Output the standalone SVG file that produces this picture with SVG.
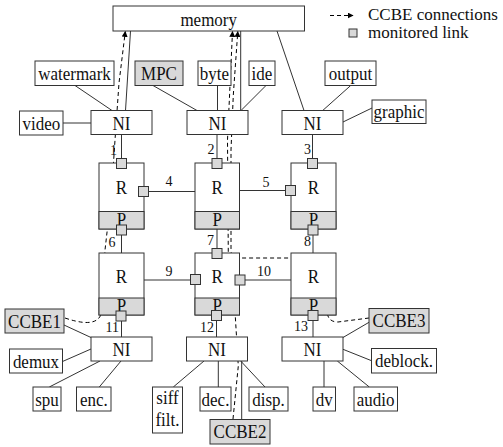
<svg xmlns="http://www.w3.org/2000/svg" width="503" height="447" viewBox="0 0 503 447" font-family="Liberation Serif, Times New Roman, serif">
<defs>
<style>
.b{fill:#fff;stroke:#333;stroke-width:1}
.g{fill:#d9d9d9;stroke:#333;stroke-width:1}
.sq{fill:#d9d9d9;stroke:#333;stroke-width:1}
.l{stroke:#333;stroke-width:1;fill:none}
.d{stroke:#000;stroke-width:1;fill:none;stroke-dasharray:4,3}
text{font-family:'Liberation Serif','Times New Roman',serif;fill:#111}
.t{font-size:17px;text-anchor:middle;transform-box:fill-box;transform-origin:50% 80.5%;transform:scaleY(1.15)}
.lg{font-size:17px}
.n{font-size:14px}
.m{text-anchor:middle}
.e{text-anchor:end}
</style>
<marker id="ah" viewBox="0 0 10 10" refX="9" refY="5" markerWidth="6" markerHeight="6" orient="auto" markerUnits="userSpaceOnUse">
<path d="M0,0 L10,5 L0,10 Z" fill="#000"/>
</marker>
</defs>

<g id="connectors">
<line class="l" x1="63" y1="123" x2="91" y2="123"/>
<line class="l" x1="75" y1="85.5" x2="112" y2="110.5"/>
<line class="l" x1="130.5" y1="31" x2="125.5" y2="110.5"/>
<line class="l" x1="153" y1="85.5" x2="197" y2="110.5"/>
<line class="l" x1="217.5" y1="85.5" x2="217.5" y2="110.5"/>
<line class="l" x1="240.7" y1="31" x2="240.7" y2="110.5"/>
<line class="l" x1="266" y1="85.5" x2="241" y2="110.5"/>
<line class="l" x1="277" y1="31" x2="304" y2="110.5"/>
<line class="l" x1="350.7" y1="85.5" x2="322.7" y2="110.5"/>
<line class="l" x1="343" y1="122" x2="372" y2="108"/>
<line class="l" x1="121.5" y1="134.5" x2="121.5" y2="163"/>
<line class="l" x1="217" y1="134.5" x2="217" y2="163"/>
<line class="l" x1="312.5" y1="134.5" x2="312.5" y2="163"/>
<line class="l" x1="144" y1="191.5" x2="195" y2="191.5"/>
<line class="l" x1="239.5" y1="190.5" x2="291" y2="190.5"/>
<line class="l" x1="121.5" y1="229" x2="121.5" y2="253"/>
<line class="l" x1="217" y1="229" x2="217" y2="253"/>
<line class="l" x1="313" y1="229" x2="313" y2="253"/>
<line class="l" x1="144" y1="280" x2="195" y2="280"/>
<line class="l" x1="239.5" y1="280" x2="291" y2="280"/>
<line class="l" x1="121.5" y1="315" x2="121.5" y2="337"/>
<line class="l" x1="216.5" y1="315" x2="216.5" y2="337"/>
<line class="l" x1="313" y1="315" x2="313" y2="337"/>
<line class="l" x1="64" y1="325" x2="91" y2="337.5"/>
<line class="l" x1="62.5" y1="361.5" x2="91" y2="349"/>
<line class="l" x1="49.3" y1="387" x2="100" y2="361"/>
<line class="l" x1="99.3" y1="387" x2="121" y2="361"/>
<line class="l" x1="173.3" y1="387" x2="204" y2="361"/>
<line class="l" x1="218.3" y1="361" x2="218.3" y2="387"/>
<line class="l" x1="265" y1="387" x2="240.7" y2="361"/>
<line class="l" x1="241.7" y1="361" x2="241.7" y2="419.5"/>
<line class="l" x1="369" y1="322.3" x2="343" y2="337.5"/>
<line class="l" x1="343" y1="349.3" x2="371.5" y2="360.7"/>
<line class="l" x1="324" y1="361" x2="324" y2="387"/>
<line class="l" x1="337.3" y1="361" x2="369.3" y2="387"/>
<path class="d" marker-end="url(#ah)" d="M65,318 Q100,330 102,310 L105,250 L111.5,193 L115,140 L119,83 L125.3,31.5"/>
<path class="d" marker-end="url(#ah)" d="M233,419 L238.3,366 L234,295 L228.3,256 L227.5,140 L232.5,31.5"/>
<path class="d" marker-end="url(#ah)" d="M369,318 L338,322 Q327,322 327,310 L326,275 Q325,258 310,258 L238,258 Q231,258 231,250 L231,150 L233.3,95 L237.8,31.5"/>
</g>

<g id="memory"><rect class="b" x="113" y="6" width="191.5" height="25"/><text class="t" x="208.7" y="26">memory</text></g>

<g id="legend">
<line class="d" x1="330" y1="15.5" x2="353" y2="15.5" marker-end="url(#ah)"/>
<text class="lg" x="368" y="19.5">CCBE connections</text>
<rect class="sq" x="349" y="29" width="8" height="8"/>
<text class="lg" x="368" y="38">monitored link</text>
</g>

<g id="watermark"><rect class="b" x="35" y="61" width="79" height="24.5"/><text class="t" x="74.5" y="80">watermark</text></g>
<g id="MPC"><rect class="g" x="135" y="61" width="48" height="24.5"/><text class="t" x="159" y="80">MPC</text></g>
<g id="byte"><rect class="b" x="198" y="61" width="33" height="24.5"/><text class="t" x="214.5" y="80">byte</text></g>
<g id="ide"><rect class="b" x="249" y="61" width="26" height="24.5"/><text class="t" x="262" y="80">ide</text></g>
<g id="output"><rect class="b" x="325" y="61" width="51" height="24.5"/><text class="t" x="350.5" y="80">output</text></g>
<g id="graphic"><rect class="b" x="372" y="100" width="54" height="23.5"/><text class="t" x="399" y="118.5">graphic</text></g>
<g id="video"><rect class="b" x="19.5" y="111" width="43.5" height="24"/><text class="t" x="41.3" y="130">video</text></g>

<g id="NI1"><rect class="b" x="91" y="110.5" width="61" height="24"/><text class="t" x="121.5" y="130">NI</text></g>
<g id="NI2"><rect class="b" x="187" y="110.5" width="61" height="24"/><text class="t" x="217.5" y="130">NI</text></g>
<g id="NI3"><rect class="b" x="282" y="110.5" width="61" height="24"/><text class="t" x="312.5" y="130">NI</text></g>

<g id="R1"><rect class="b" x="99" y="163" width="45" height="66"/><rect class="g" x="99" y="211.5" width="45" height="17.5"/><text class="t" x="121.5" y="194">R</text><text class="t" x="121.5" y="226">P</text></g>
<g id="R2"><rect class="b" x="195" y="163" width="44.5" height="66"/><rect class="g" x="195" y="211.5" width="44.5" height="17.5"/><text class="t" x="217.2" y="194">R</text><text class="t" x="217.2" y="226">P</text></g>
<g id="R3"><rect class="b" x="291" y="163" width="45" height="66"/><rect class="g" x="291" y="211.5" width="45" height="17.5"/><text class="t" x="313.5" y="194">R</text><text class="t" x="313.5" y="226">P</text></g>
<g id="R4"><rect class="b" x="99" y="253" width="45" height="62"/><rect class="g" x="99" y="298" width="45" height="17"/><text class="t" x="121.5" y="283">R</text><text class="t" x="121.5" y="312">P</text></g>
<g id="R5"><rect class="b" x="195" y="253" width="44.5" height="62"/><rect class="g" x="195" y="298" width="44.5" height="17"/><text class="t" x="217.2" y="283">R</text><text class="t" x="217.2" y="312">P</text></g>
<g id="R6"><rect class="b" x="291" y="253" width="45" height="62"/><rect class="g" x="291" y="298" width="45" height="17"/><text class="t" x="313.5" y="283">R</text><text class="t" x="313.5" y="312">P</text></g>

<g id="links">
<rect class="sq" x="116.5" y="158.5" width="10" height="10"/>
<rect class="sq" x="212" y="158.5" width="10" height="10"/>
<rect class="sq" x="307.5" y="158.5" width="10" height="10"/>
<rect class="sq" x="138.5" y="186.5" width="10" height="10"/>
<rect class="sq" x="285.5" y="185.5" width="10" height="10"/>
<rect class="sq" x="116.5" y="225" width="10" height="10"/>
<rect class="sq" x="212" y="248.5" width="10" height="10"/>
<rect class="sq" x="308" y="225" width="10" height="10"/>
<rect class="sq" x="190.5" y="274.5" width="10" height="10"/>
<rect class="sq" x="235" y="275" width="10" height="10"/>
<rect class="sq" x="116" y="311" width="10" height="10"/>
<rect class="sq" x="211.5" y="310.5" width="10" height="10"/>
<rect class="sq" x="308" y="310.5" width="10" height="10"/>
<text class="n e" x="117" y="155">1</text>
<text class="n e" x="214.5" y="154">2</text>
<text class="n e" x="311" y="154">3</text>
<text class="n m" x="169" y="186">4</text>
<text class="n m" x="266" y="186.5">5</text>
<text class="n e" x="115.5" y="246.5">6</text>
<text class="n e" x="214" y="245">7</text>
<text class="n e" x="311" y="246">8</text>
<text class="n m" x="169" y="276">9</text>
<text class="n m" x="264" y="276">10</text>
<text class="n e" x="119" y="331.5">11</text>
<text class="n e" x="214" y="331.5">12</text>
<text class="n e" x="308" y="331">13</text>
</g>

<g id="NI4"><rect class="b" x="91" y="337" width="61" height="24"/><text class="t" x="121.5" y="356.5">NI</text></g>
<g id="NI5"><rect class="b" x="186.5" y="337" width="61" height="24"/><text class="t" x="217" y="356.5">NI</text></g>
<g id="NI6"><rect class="b" x="282" y="337" width="61" height="24"/><text class="t" x="312.5" y="356.5">NI</text></g>

<g id="CCBE1"><rect class="g" x="5" y="309" width="59" height="24"/><text class="t" x="34.5" y="328">CCBE1</text></g>
<g id="demux"><rect class="b" x="9.5" y="349" width="53" height="24"/><text class="t" x="36" y="368">demux</text></g>
<g id="spu"><rect class="b" x="33" y="387" width="28" height="24"/><text class="t" x="47" y="406">spu</text></g>
<g id="enc"><rect class="b" x="76.5" y="387" width="34.5" height="24"/><text class="t" x="93.8" y="406">enc.</text></g>
<g id="siff"><rect class="b" x="152.5" y="387" width="30" height="46"/><text class="t" x="167.5" y="404">siff</text><text class="t" x="167.5" y="426">filt.</text></g>
<g id="dec"><rect class="b" x="200" y="387" width="31" height="24"/><text class="t" x="215.5" y="406">dec.</text></g>
<g id="disp"><rect class="b" x="249" y="387" width="39" height="24"/><text class="t" x="268.5" y="406">disp.</text></g>
<g id="CCBE2"><rect class="g" x="210" y="419.5" width="60" height="24.5"/><text class="t" x="240" y="438.5">CCBE2</text></g>
<g id="CCBE3"><rect class="g" x="369" y="308.5" width="60" height="24.5"/><text class="t" x="399" y="327.5">CCBE3</text></g>
<g id="deblock"><rect class="b" x="371.5" y="348.5" width="65" height="24.5"/><text class="t" x="404" y="367.5">deblock.</text></g>
<g id="dv"><rect class="b" x="313" y="387" width="22.5" height="24"/><text class="t" x="324.2" y="406">dv</text></g>
<g id="audio"><rect class="b" x="354" y="387" width="43.5" height="24"/><text class="t" x="375.7" y="406">audio</text></g>
</svg>
